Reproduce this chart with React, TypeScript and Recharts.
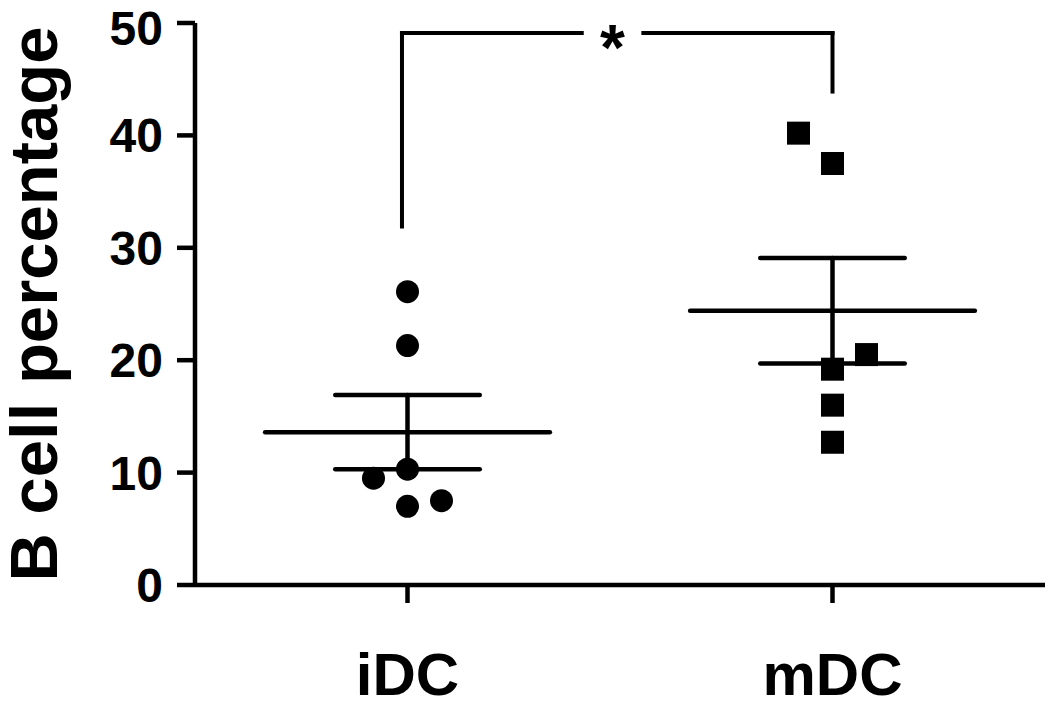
import React from 'react';
import {
  ComposedChart,
  Scatter,
  XAxis,
  YAxis,
  ReferenceLine,
  ReferenceDot,
} from 'recharts';

// ---- data ----
const categories = ['iDC', 'mDC'];
const categoryPositions = [1, 2];
const yTicks = [0, 10, 20, 30, 40, 50];

const iDCValues = [26.1, 21.3, 10.3, 9.5, 7.0, 7.5];
const iDCJitter = [0, 0, 0, -0.08, 0, 0.08];
const mDCValues = [40.2, 37.5, 20.5, 19.2, 16.0, 12.7];
const mDCJitter = [-0.08, 0, 0.08, 0, 0, 0];

const means = [13.6, 24.4];
const sems = [3.3, 4.7];

// significance bracket (data units)
const bracketX = [0.987, 2.0];
const bracketTop = 49.1;
const bracketBottoms = [31.9, 43.9];
const bracketGap = [1.41, 1.555];
const sigLabel = '*';

const FONT = '"Liberation Sans", Arial, Helvetica, sans-serif';
const MEAN_HALF = 0.335;
const CAP_HALF = 0.17;
const LW = 4.5;

const iDCData = iDCValues.map((v, i) => ({ x: categoryPositions[0] + iDCJitter[i], y: v }));
const mDCData = mDCValues.map((v, i) => ({ x: categoryPositions[1] + mDCJitter[i], y: v }));

const CircleShape = (p: any) => <circle cx={p.cx} cy={p.cy} r={11.5} fill="#000" />;
const SquareShape = (p: any) => (
  <rect x={p.cx - 11.5} y={p.cy - 11.5} width={23} height={23} fill="#000" />
);

const YLabel = (p: any) => {
  const vb = p.viewBox || {};
  const cx = vb.x + 57;
  const cy = vb.y + vb.height / 2;
  return (
    <text
      x={cx}
      y={cy}
      transform={`rotate(-90 ${cx} ${cy})`}
      textAnchor="middle"
      fontFamily={FONT}
      fontWeight="bold"
      fontSize={67}
      fill="#000"
    >
      B cell percentage
    </text>
  );
};

export default function App() {
  const lineProps = { stroke: '#000', strokeWidth: LW, strokeLinecap: 'round' as const, ifOverflow: 'visible' as const };
  const bracketProps = { stroke: '#000', strokeWidth: 4, strokeLinecap: 'square' as const, ifOverflow: 'visible' as const };
  return (
    <div style={{ position: 'absolute', left: 0, top: 0, background: '#fff' }}>
      <ComposedChart width={1050} height={701} margin={{ top: 23, right: 5, left: 0, bottom: 0 }}>
        <XAxis
          type="number"
          dataKey="x"
          domain={[0.5, 2.5]}
          ticks={categoryPositions}
          tickFormatter={(v: number) => categories[categoryPositions.indexOf(v)] ?? ''}
          height={116}
          axisLine={{ stroke: '#000', strokeWidth: LW }}
          tickLine={{ stroke: '#000', strokeWidth: LW }}
          tickSize={18}
          tickMargin={49}
          tick={{ fill: '#000', fontSize: 60, fontWeight: 'bold', fontFamily: FONT }}
          allowDataOverflow
        />
        <YAxis
          type="number"
          dataKey="y"
          domain={[0, 50]}
          ticks={yTicks}
          width={195}
          axisLine={{ stroke: '#000', strokeWidth: LW }}
          tickLine={{ stroke: '#000', strokeWidth: LW }}
          tickSize={18}
          tickMargin={14}
          tick={{ fill: '#000', fontSize: 48, fontWeight: 'bold', fontFamily: FONT }}
          label={{ value: 'B cell percentage', content: YLabel }}
          allowDataOverflow
        />

        {categoryPositions.map((c, i) => (
          <ReferenceLine
            key={`mean-${i}`}
            segment={[{ x: c - MEAN_HALF, y: means[i] }, { x: c + MEAN_HALF, y: means[i] }]}
            {...lineProps}
          />
        ))}
        {categoryPositions.map((c, i) => (
          <ReferenceLine
            key={`capu-${i}`}
            segment={[{ x: c - CAP_HALF, y: means[i] + sems[i] }, { x: c + CAP_HALF, y: means[i] + sems[i] }]}
            {...lineProps}
          />
        ))}
        {categoryPositions.map((c, i) => (
          <ReferenceLine
            key={`capl-${i}`}
            segment={[{ x: c - CAP_HALF, y: means[i] - sems[i] }, { x: c + CAP_HALF, y: means[i] - sems[i] }]}
            {...lineProps}
          />
        ))}
        {categoryPositions.map((c, i) => (
          <ReferenceLine
            key={`vert-${i}`}
            segment={[{ x: c, y: means[i] - sems[i] }, { x: c, y: means[i] + sems[i] }]}
            {...lineProps}
          />
        ))}

        {/* significance bracket */}
        <ReferenceLine
          segment={[{ x: bracketX[0], y: bracketBottoms[0] }, { x: bracketX[0], y: bracketTop }]}
          {...bracketProps}
        />
        <ReferenceLine
          segment={[{ x: bracketX[0], y: bracketTop }, { x: bracketGap[0], y: bracketTop }]}
          {...bracketProps}
        />
        <ReferenceLine
          segment={[{ x: bracketGap[1], y: bracketTop }, { x: bracketX[1], y: bracketTop }]}
          {...bracketProps}
        />
        <ReferenceLine
          segment={[{ x: bracketX[1], y: bracketTop }, { x: bracketX[1], y: bracketBottoms[1] }]}
          {...bracketProps}
        />
        <ReferenceDot
          x={(bracketGap[0] + bracketGap[1]) / 2}
          y={bracketTop}
          r={0}
          fill="none"
          stroke="none"
          ifOverflow="visible"
          label={{ value: sigLabel, position: 'center', fontSize: 64, fontWeight: 'bold', fontFamily: FONT, fill: '#000', dy: 14 }}
        />

        <Scatter data={iDCData} dataKey="y" shape={CircleShape} isAnimationActive={false} />
        <Scatter data={mDCData} dataKey="y" shape={SquareShape} isAnimationActive={false} />
      </ComposedChart>
    </div>
  );
}
